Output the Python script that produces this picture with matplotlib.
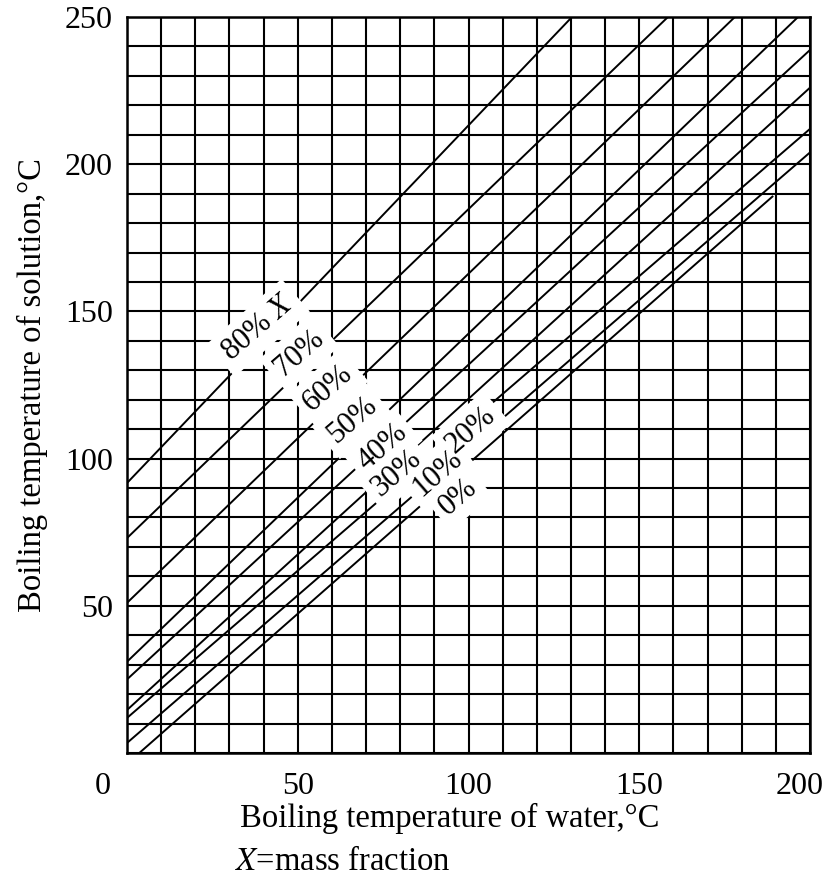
import numpy as np
import matplotlib.pyplot as plt
from matplotlib.transforms import ScaledTranslation

plt.rcParams['font.family'] = ['Liberation Serif', 'DejaVu Serif']
plt.rcParams['mathtext.fontset'] = 'stix'

# Duhring lines: mass fraction of solute and end points
conc = [0, 10, 20, 30, 40, 50, 60, 70, 80]
x_start = [3.6, 0, 0, 0, 0, 0, 0, 0, 0]
y_start = [0, 3.4, 11.9, 14.6, 25, 31, 51, 73, 91.7]
x_end = [189, 200, 200, 200, 200, 196.5, 178, 158.4, 130.3]
y_end = [189, 204, 212, 226, 238.8, 250, 250, 250, 250]

# label positions (water temp, solution temp)
lab_text = ['0%', '10%', '20%', '30%', '40%', '50%', '60%', '70%', '80% $X$']
lab_x = [96.9, 90.8, 100.7, 78.8, 74.7, 65.9, 58.9, 50.4, 38.4]
lab_y = [87.0, 95.1, 109.7, 95.1, 103.9, 113.1, 124.0, 135.9, 144.4]

fig = plt.figure(figsize=(8.3, 8.81), dpi=100)
ax = fig.add_axes([127/830, 1-753/881, 683/830, 736/881])

for i in range(len(conc)):
    ax.plot([x_start[i], x_end[i]], [y_start[i], y_end[i]], color='black', lw=1.4, zorder=3)

# white patches first, then the text on top so labels don't hide each other
for i in range(len(conc)):
    ax.text(lab_x[i], lab_y[i], lab_text[i], fontsize=22, rotation=41,
            ha='center', va='center', zorder=4, color='white',
            bbox=dict(facecolor='white', edgecolor='none', pad=5))
for i in range(len(conc)):
    ax.text(lab_x[i], lab_y[i], lab_text[i], fontsize=22, rotation=41,
            ha='center', va='center', zorder=5)

ax.set_xlim(0, 200)
ax.set_ylim(0, 250)
ax.set_xticks([0, 50, 100, 150, 200])
ax.set_yticks([50, 100, 150, 200, 250])
ax.set_xticks(np.arange(0, 201, 10), minor=True)
ax.set_yticks(np.arange(0, 251, 10), minor=True)
ax.grid(True, which='both', color='black', lw=1.5, zorder=1)
ax.set_axisbelow(True)
ax.tick_params(which='both', length=0, labelsize=23)
ax.tick_params(axis='x', pad=14)
ax.tick_params(axis='y', pad=10)
for s in ax.spines.values():
    s.set_linewidth(1.8)

# shift the corner "0" and the "200" like the original
xl = ax.get_xticklabels()
xl[0].set_transform(xl[0].get_transform() + ScaledTranslation(-0.24, 0, fig.dpi_scale_trans))
xl[-1].set_transform(xl[-1].get_transform() + ScaledTranslation(-0.10, 0, fig.dpi_scale_trans))

ax.set_ylabel('Boiling temperature of solution,°C', fontsize=23.5, labelpad=12)
fig.text(450/830, 1-818/881, 'Boiling temperature of water,°C', fontsize=23.5, ha='center', va='center')
fig.text(235/830, 1-862/881, '$X$=mass fraction', fontsize=23.5, ha='left', va='center')

plt.savefig('out.png', dpi=100)
